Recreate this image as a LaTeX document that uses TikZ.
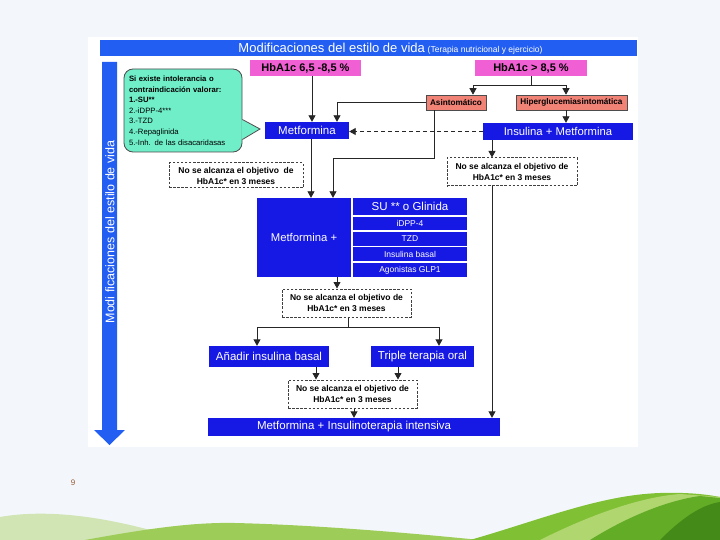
\documentclass[tikz,border=0pt]{standalone}
\usepackage{fontspec}
\setmainfont{Liberation Sans}
\usetikzlibrary{arrows.meta, positioning, calc}
\definecolor{SlideBg}{RGB}{243,247,251}
\definecolor{BannerBlue}{RGB}{34,94,242}
\definecolor{BoxBlue}{RGB}{22,24,228}
\definecolor{HbPink}{RGB}{240,96,212}
\definecolor{SymSalmon}{RGB}{240,130,118}
\definecolor{BubbleMint}{RGB}{112,238,200}
\definecolor{PageBrown}{RGB}{150,90,50}
\definecolor{HillPale}{RGB}{208,228,180}
\definecolor{HillMid}{RGB}{158,204,88}
\definecolor{HillOne}{RGB}{128,192,52}
\definecolor{HillTwo}{RGB}{176,214,112}
\definecolor{HillThree}{RGB}{98,172,38}
\definecolor{HillFour}{RGB}{68,138,24}

\begin{document}
\begin{tikzpicture}[
        x=1pt, y=-1pt,
        % Base box style
        flow/.style={rectangle, inner sep=0pt, align=center},
        % Treatment boxes
        blueBox/.style={flow, fill=BoxBlue, text=white, font=\fontsize{11.5}{13}\selectfont},
        rowBox/.style={blueBox, minimum width=114pt, font=\fontsize{8.5}{10}\selectfont},
        % HbA1c and symptom boxes
        pinkBox/.style={flow, fill=HbPink, minimum height=16pt, font=\fontsize{11}{13}\selectfont\bfseries},
        symBox/.style={flow, fill=SymSalmon, draw=black!70, line width=0.6pt, minimum height=15pt, font=\fontsize{8.2}{10}\selectfont\bfseries},
        % Goal not reached
        goalBox/.style={flow, fill=white, draw=black!75, dash pattern=on 2.5pt off 1.6pt, line width=1pt,
            minimum width=129pt, minimum height=28pt, font=\fontsize{8.5}{11}\selectfont\bfseries},
        bubbleBox/.style={rectangle, rounded corners=9pt, fill=BubbleMint, draw=black!70, line width=0.8pt,
            minimum width=118pt, minimum height=83pt, text width=108pt, align=left, inner sep=0pt,
            font=\fontsize{7.7}{10.6}\selectfont},
        % Flow lines
        arr/.style={-{Triangle[length=6.5pt,width=7pt]}, line width=0.9pt, draw=black!85},
        dashArr/.style={arr, dash pattern=on 4pt off 3pt}
    ]

    \useasboundingbox (0,0) rectangle (720,540);
    \fill[SlideBg] (0,0) rectangle (720,540);

    % --- BACKGROUND HILLS ---
    \fill[HillPale] (0,540) -- (0,517) .. controls (40,510) and (90,514) .. (150,530) .. controls (170,536) and (190,540) .. (200,540) -- cycle;
    \fill[HillMid] (85,540) .. controls (140,530) and (190,522) .. (235,523) .. controls (320,525) and (420,534) .. (480,540) -- cycle;
    \fill[HillOne] (470,540) .. controls (540,520) and (600,495) .. (660,493) .. controls (690,492) and (710,495) .. (720,497) -- (720,540) -- cycle;
    \fill[HillTwo] (540,540) .. controls (590,515) and (640,497) .. (680,494) -- (720,497) -- (720,540) -- cycle;
    \fill[HillThree] (590,540) .. controls (630,515) and (670,500) .. (700,496) -- (720,498) -- (720,540) -- cycle;
    \fill[HillFour] (660,540) .. controls (680,520) and (700,505) .. (720,502) -- (720,540) -- cycle;
    \node[font=\fontsize{8}{9}\selectfont, text=PageBrown] (pageNum) at (73,483) {9};

    % --- PANEL AND BANNER ---
    \fill[white] (88,37) rectangle (638,447);
    \node[flow, fill=BannerBlue, minimum width=537pt, minimum height=16pt] (banner) at (368.5,48) {};
    \node[text=white, inner sep=0pt] (bannerTxt) at (390.5,48.5)
        {{\fontsize{13}{15}\selectfont Modificaciones del estilo de vida} {\fontsize{8.5}{10}\selectfont(Terapia nutricional y ejercicio)}};

    % Lifestyle arrow on the left
    \fill[BannerBlue] (102,62) -- (117,62) -- (117,430) -- (125,430) -- (109.5,445) -- (94,430) -- (102,430) -- cycle;
    \node[rotate=90, text=white, inner sep=0pt, font=\fontsize{12.5}{14}\selectfont] (lifeTxt) at (110,232) {Modi ficaciones del estilo de vida};

    % --- NODES ---
    \node[pinkBox, minimum width=111pt] (hbaA) at (305.5,68) {HbA1c 6,5 -8,5 \%};
    \node[pinkBox, minimum width=112pt] (hbaB) at (531,68) {HbA1c > 8,5 \%};
    \node[bubbleBox] (bub) at (183,110.5) {\textbf{Si existe intolerancia o}\\\textbf{contraindicación valorar:}\\\textbf{1.-SU**}\\2.-iDPP-4***\\3.-TZD\\4.-Repaglinida\\5.-Inh. de las disacaridasas};
    \coordinate (bubTip) at (260,129);
    \fill[BubbleMint] ($(bub.east)+(-1,9)$) -- (bubTip) -- ($(bub.east)+(-1,29)$) -- cycle;
    \draw[black!70, line width=0.8pt] ($(bub.east)+(0,9)$) -- (bubTip) -- ($(bub.east)+(0,29)$);

    \node[blueBox, minimum width=84pt, minimum height=17pt] (met) at (307,130.5) {Metformina};
    \node[symBox, minimum width=60pt] (asin) at (456,102.5) {Asintomático};
    \node[symBox, minimum width=111pt] (hiper) at (571.5,102.5) {Hiperglucemiasintomática};
    \node[blueBox, minimum width=150pt, minimum height=17pt, font=\fontsize{11.3}{13}\selectfont] (insMet) at (558,131.5) {Insulina + Metformina};

    \node[goalBox, minimum width=134pt, minimum height=25pt] (goalA) at (236,175.5) {No se alcanza el objetivo\ \ de\\HbA1c* en 3 meses};
    \node[goalBox, minimum width=130pt] (goalB) at (512,172) {No se alcanza el objetivo de\\HbA1c* en 3 meses};

    \node[blueBox, minimum width=94pt, minimum height=79pt, font=\fontsize{11.3}{13}\selectfont] (metPlus) at (304,237.5) {Metformina +};
    \node[rowBox, minimum height=17pt, font=\fontsize{11.5}{13}\selectfont] (su) at (410,206.5) {SU ** o Glinida};
    \node[rowBox, minimum height=13pt] (idpp) at (410,223.5) {iDPP-4};
    \node[rowBox, minimum height=14pt] (tzd) at (410,239) {TZD};
    \node[rowBox, minimum height=14pt] (insBasal) at (410,254) {Insulina basal};
    \node[rowBox, minimum height=14pt] (glp) at (410,270) {Agonistas GLP1};

    \node[goalBox] (goalC) at (346.5,303) {No se alcanza el objetivo de\\HbA1c* en 3 meses};
    \node[blueBox, minimum width=120pt, minimum height=21pt] (addBasal) at (269,356.5) {Añadir insulina basal};
    \node[blueBox, minimum width=103pt, minimum height=21pt] (triple) at (422.5,356.5) {Triple terapia oral};
    \node[goalBox] (goalD) at (352.5,394) {No se alcanza el objetivo de\\HbA1c* en 3 meses};
    \node[blueBox, minimum width=292pt, minimum height=18pt] (final) at (354,427) {Metformina + Insulinoterapia intensiva};

    % --- CONNECTORS ---
    \draw[arr] ([xshift=6.5]hbaA.south) -- ([xshift=6.5]hbaA.south |- met.north);
    \draw[arr] (asin.west) -| ([xshift=30]met.north);
    \coordinate (splitB) at (531,85);
    \draw[arr] (hbaB.south) -- (splitB) -| ([xshift=17]asin.north);
    \draw[arr] (splitB) -| ([xshift=-5.5]hiper.north);
    \draw[arr] ([xshift=-5.5]hiper.south) -- ([xshift=-5.5]hiper.south |- insMet.north);
    \draw[dashArr] (insMet.west) -- (insMet.west -| met.east);

    \draw[arr] ([xshift=4]met.south) -- ([xshift=4]met.south |- metPlus.north);
    \draw[arr] ([xshift=-22]asin.south) -- ++(0,48) -| ([xshift=29]metPlus.north);
    \draw[arr] ([xshift=-66]insMet.south) -- ([xshift=-66]insMet.south |- goalB.north);
    \draw[arr] ([xshift=-20]goalB.south) -- ([xshift=-20]goalB.south |- final.north);

    \draw[arr] ([xshift=33]metPlus.south) -- ([xshift=33]metPlus.south |- goalC.north);
    \draw[arr] ([xshift=1.5]goalC.south) -- ++(0,10) coordinate (splitC) -| ([xshift=-12]addBasal.north);
    \draw[arr] (splitC) -| ([xshift=16.5]triple.north);
    \draw[arr] ([xshift=47]addBasal.south) -- ([xshift=47]addBasal.south |- goalD.north);
    \draw[arr] ([xshift=-24.5]triple.south) -- ([xshift=-24.5]triple.south |- goalD.north);
    \draw[arr] ([xshift=1.5]goalD.south) -- ([xshift=1.5]goalD.south |- final.north);

\end{tikzpicture}
\end{document}
